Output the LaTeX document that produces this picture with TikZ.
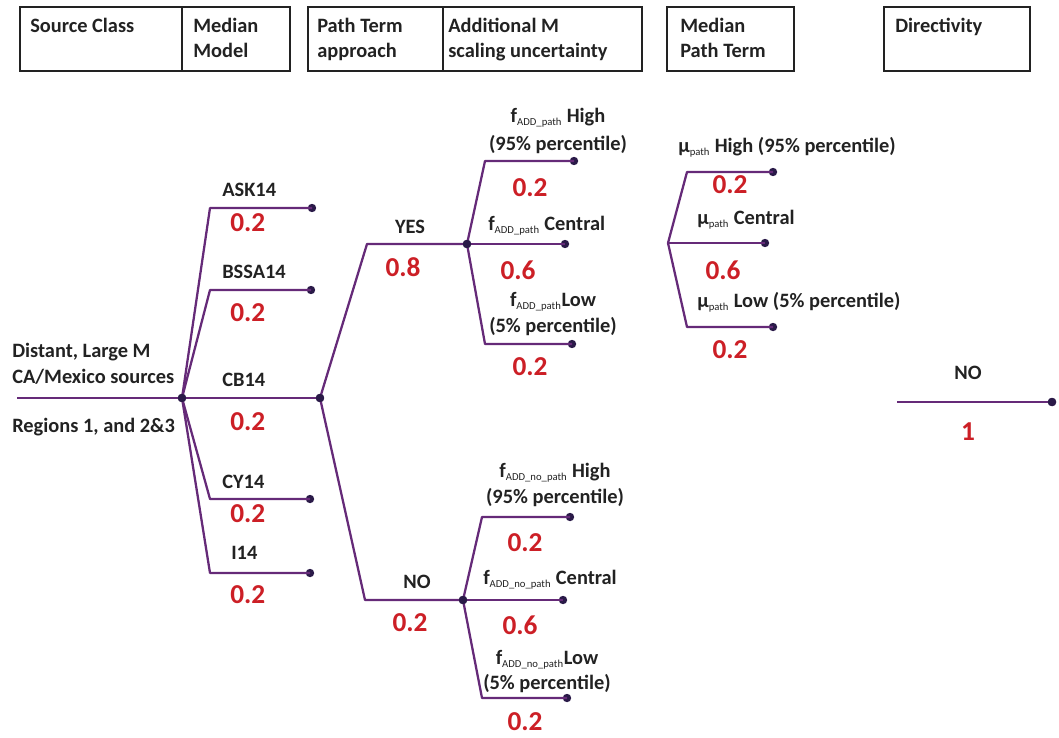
\documentclass[tikz,border=0pt]{standalone}
\usepackage{fontspec}
\setmainfont{Carlito}
\definecolor{brc}{HTML}{652A78}
\definecolor{dotc}{HTML}{2A1A48}
\definecolor{probc}{HTML}{CC1F26}
\definecolor{txtc}{HTML}{222222}
\newcommand{\fsub}[1]{f\textsubscript{\mdseries\fontsize{8}{9}\selectfont #1}}
\newcommand{\musub}{μ\textsubscript{\mdseries\fontsize{8}{9}\selectfont path}}
\begin{document}
\begin{tikzpicture}[x=0.75pt,y=-0.75pt,
  br/.style={draw=brc, line width=1.7pt, line join=round},
  dot/.style={circle, fill=dotc, inner sep=0pt, minimum size=6.3pt},
  hbox/.style={draw=txtc, line width=1pt},
  lbl/.style={font=\fontsize{15.3}{18}\selectfont\bfseries, text=txtc, inner sep=0pt},
  prob/.style={font=\fontsize{20.5}{22}\selectfont\bfseries, text=probc, inner sep=0pt}]
\useasboundingbox (0,0) rectangle (1059,738);

% ---------- header boxes ----------
\draw[hbox] (20,7) rectangle (290,71);
\draw[hbox] (182,7) -- (182,71);
\draw[hbox] (308,7) rectangle (642,71);
\draw[hbox] (443,7) -- (443,71);
\draw[hbox] (667,7) rectangle (794,71);
\draw[hbox] (884,7) rectangle (1030,71);
\node[lbl, anchor=base west] (h1) at (30,33) {Source Class};
\node[lbl, anchor=base west] (h2a) at (193,33) {Median};
\node[lbl, anchor=base west] (h2b) at (193,58) {Model};
\node[lbl, anchor=base west] (h3a) at (317,33) {Path Term};
\node[lbl, anchor=base west] (h3b) at (317,58) {approach};
\node[lbl, anchor=base west] (h4a) at (448,33) {Additional M};
\node[lbl, anchor=base west] (h4b) at (448,58) {scaling uncertainty};
\node[lbl, anchor=base west] (h5a) at (680,33) {Median};
\node[lbl, anchor=base west] (h5b) at (680,58) {Path Term};
\node[lbl, anchor=base west] (h6) at (895,33) {Directivity};

% ---------- root ----------
\coordinate (start) at (17,398);
\node[dot] (root) at (182,398) {};
\draw[br] (start) -- (root);
\node[lbl, anchor=west] (r1) at (12,352) {Distant, Large M};
\node[lbl, anchor=west] (r2) at (12,377) {CA/Mexico sources};
\node[lbl, anchor=west] (r3) at (12,427) {Regions 1, and 2\&3};

% ---------- median models ----------
\coordinate (cA) at (210,208); \node[dot] (eA) at (312,208) {};
\coordinate (cB) at (210,290); \node[dot] (eB) at (311,290) {};
\node[dot] (pt) at (320,398) {};
\coordinate (cD) at (210,499); \node[dot] (eD) at (310,499) {};
\coordinate (cE) at (210,573); \node[dot] (eE) at (310,573) {};
\draw[br] (root.center) -- (cA) -- (eA.center);
\draw[br] (root.center) -- (cB) -- (eB.center);
\draw[br] (root.center) -- (pt.center);
\draw[br] (root.center) -- (cD) -- (eD.center);
\draw[br] (root.center) -- (cE) -- (eE.center);
\node[dot] at (root) {};
\node[lbl, anchor=west] (lA) at (222,190) {ASK14};
\node[prob, anchor=west] (pA) at (230,223) {0.2};
\node[lbl, anchor=west] (lB) at (222,272) {BSSA14};
\node[prob, anchor=west] (pB) at (230,313) {0.2};
\node[lbl, anchor=west] (lC) at (222,380) {CB14};
\node[prob, anchor=west] (pC) at (230,422) {0.2};
\node[lbl, anchor=west] (lD) at (222,482) {CY14};
\node[prob, anchor=west] (pD) at (230,514) {0.2};
\node[lbl, anchor=west] (lE) at (231,553) {I14};
\node[prob, anchor=west] (pE) at (230,595) {0.2};

% ---------- path term approach ----------
\coordinate (cY) at (367,244); \node[dot] (yes) at (467,244) {};
\coordinate (cN) at (365,600); \node[dot] (no) at (463,600) {};
\draw[br] (pt.center) -- (cY) -- (yes.center);
\draw[br] (pt.center) -- (cN) -- (no.center);
\node[dot] at (pt) {};
\node[lbl] (lY) at (410,227) {YES};
\node[prob] (pY) at (403,267) {0.8};
\node[lbl] (lN) at (417,582) {NO};
\node[prob] (pN) at (410,623) {0.2};

% ---------- additional M scaling (YES) ----------
\coordinate (cYH) at (485,161); \node[dot] (eYH) at (574,161) {};
\node[dot] (eYC) at (565,244) {};
\coordinate (cYL) at (485,344); \node[dot] (eYL) at (572,344) {};
\draw[br] (yes.center) -- (cYH) -- (eYH.center);
\draw[br] (yes.center) -- (eYC.center);
\draw[br] (yes.center) -- (cYL) -- (eYL.center);
\node[dot] at (yes) {};
\node[lbl] (lYH1) at (558,118) {\fsub{ADD\_path} High};
\node[lbl] (lYH2) at (558,145) {(95\% percentile)};
\node[prob] (pYH) at (530,188) {0.2};
\node[lbl, anchor=west] (lYC) at (488,226) {\fsub{ADD\_path} Central};
\node[prob] (pYC) at (518,270) {0.6};
\node[lbl] (lYL1) at (553,302) {\fsub{ADD\_path}Low};
\node[lbl] (lYL2) at (553,327) {(5\% percentile)};
\node[prob] (pYL) at (530,367) {0.2};

% ---------- additional M scaling (NO) ----------
\coordinate (cNH) at (482,517); \node[dot] (eNH) at (570,517) {};
\node[dot] (eNC) at (563,600) {};
\coordinate (cNL) at (482,698); \node[dot] (eNL) at (567,698) {};
\draw[br] (no.center) -- (cNH) -- (eNH.center);
\draw[br] (no.center) -- (eNC.center);
\draw[br] (no.center) -- (cNL) -- (eNL.center);
\node[dot] at (no) {};
\node[lbl] (lNH1) at (555,473) {\fsub{ADD\_no\_path} High};
\node[lbl] (lNH2) at (555,498) {(95\% percentile)};
\node[prob] (pNH) at (525,543) {0.2};
\node[lbl, anchor=west] (lNC) at (483,580) {\fsub{ADD\_no\_path} Central};
\node[prob] (pNC) at (520,625) {0.6};
\node[lbl] (lNL1) at (547,660) {\fsub{ADD\_no\_path}Low};
\node[lbl] (lNL2) at (547,684) {(5\% percentile)};
\node[prob] (pNL) at (525,722) {0.2};

% ---------- median path term ----------
\coordinate (mp) at (668,243);
\coordinate (cMH) at (687,172); \node[dot] (eMH) at (773,172) {};
\node[dot] (eMC) at (765,243) {};
\coordinate (cML) at (687,327); \node[dot] (eML) at (773,327) {};
\draw[br] (mp) -- (cMH) -- (eMH.center);
\draw[br] (mp) -- (eMC.center);
\draw[br] (mp) -- (cML) -- (eML.center);
\node[lbl, anchor=west] (lMH) at (678,147) {\musub{} High (95\% percentile)};
\node[prob] (pMH) at (730,185) {0.2};
\node[lbl, anchor=west] (lMC) at (697,220) {\musub{} Central};
\node[prob] (pMC) at (723,270) {0.6};
\node[lbl, anchor=west] (lML) at (697,302) {\musub{} Low (5\% percentile)};
\node[prob] (pML) at (730,350) {0.2};

% ---------- directivity ----------
\coordinate (dS) at (897,402); \node[dot] (dE) at (1052,402) {};
\draw[br] (dS) -- (dE.center);
\node[dot] at (dE) {};
\node[lbl] (lDN) at (968,373) {NO};
\node[prob] (pDN) at (968,432) {1};
\end{tikzpicture}
\end{document}
